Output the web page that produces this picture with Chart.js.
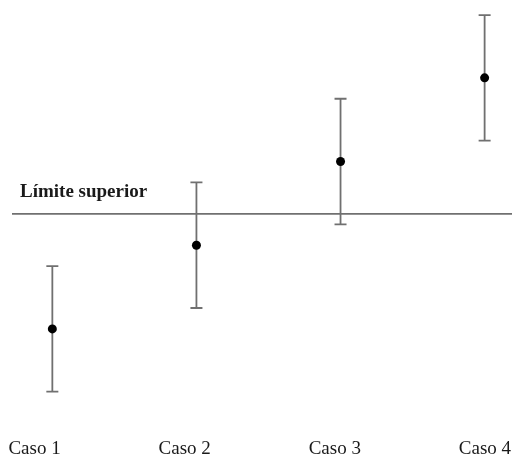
<!DOCTYPE html>
<html>
<head>
<meta charset="utf-8">
<script src="https://cdn.jsdelivr.net/npm/chart.js@4/dist/chart.umd.min.js"></script>
<style>
  html, body { margin: 0; padding: 0; background: #ffffff; }
  #wrap { width: 512px; height: 457px; }
</style>
</head>
<body>
<div id="wrap"><canvas id="chart" width="512" height="457"></canvas></div>
<script>
// Cases along the horizontal axis
const categories = ['Caso 1', 'Caso 2', 'Caso 3', 'Caso 4'];
// Central estimate of each case
const means = [2, 4, 6, 8];
// Lower and upper ends of each interval
const lower = [0.5, 2.5, 4.5, 6.5];
const upper = [3.5, 5.5, 7.5, 9.5];
// Reference limit and its caption
const limitValue = 4.75;
const limitLabel = 'Límite superior';

const X_MIN = 0.72, X_MAX = 4.19;

const LINE_COLOR = '#707070';

// Whiskers with caps, plus the caption over the limit line
const intervalPlugin = {
  id: 'intervals',
  beforeDatasetsDraw(chart) {
    const ctx = chart.ctx;
    const xs = chart.scales.x, ys = chart.scales.y;
    ctx.save();
    ctx.strokeStyle = LINE_COLOR;
    ctx.lineWidth = 1.8;
    means.forEach((m, i) => {
      const px = xs.getPixelForValue(i + 1);
      const top = ys.getPixelForValue(upper[i]);
      const bot = ys.getPixelForValue(lower[i]);
      const cap = 6;
      ctx.beginPath();
      ctx.moveTo(px, top); ctx.lineTo(px, bot);
      ctx.moveTo(px - cap, top); ctx.lineTo(px + cap, top);
      ctx.moveTo(px - cap, bot); ctx.lineTo(px + cap, bot);
      ctx.stroke();
    });
    ctx.restore();
  },
  afterDatasetsDraw(chart) {
    const ctx = chart.ctx;
    const ys = chart.scales.y;
    const py = ys.getPixelForValue(limitValue);
    ctx.save();
    ctx.fillStyle = '#1a1a1a';
    ctx.font = 'bold 19px "Liberation Serif", "Times New Roman", serif';
    ctx.textAlign = 'left';
    ctx.textBaseline = 'alphabetic';
    ctx.fillText(limitLabel, chart.chartArea.left + 8, py - 17);
    ctx.restore();
  }
};

new Chart(document.getElementById('chart'), {
  data: {
    datasets: [
      {
        type: 'line',
        data: [{ x: X_MIN, y: limitValue }, { x: X_MAX, y: limitValue }],
        borderColor: LINE_COLOR,
        borderWidth: 1.8,
        pointRadius: 0,
        xAxisID: 'x',
        yAxisID: 'y'
      },
      {
        type: 'scatter',
        data: means.map((m, i) => ({ x: i + 1, y: m })),
        backgroundColor: '#000000',
        borderColor: '#000000',
        pointStyle: 'circle',
        pointRadius: 4.5,
        borderWidth: 0,
        xAxisID: 'x',
        yAxisID: 'y'
      }
    ]
  },
  options: {
    responsive: false,
    animation: false,
    layout: { autoPadding: false, padding: { left: 12, right: 0, top: 0, bottom: 0 } },
    plugins: { legend: { display: false }, tooltip: { enabled: false } },
    scales: {
      x: {
        type: 'linear',
        display: false,
        min: X_MIN,
        max: X_MAX
      },
      xLabels: {
        type: 'linear',
        position: 'bottom',
        min: 0.85,
        max: 4.18,
        grid: { display: false, drawTicks: false },
        border: { display: false },
        afterBuildTicks(scale) {
          scale.ticks = categories.map((c, i) => ({ value: i + 1 }));
        },
        afterFit(scale) {
          scale.height = 26;
        },
        ticks: {
          autoSkip: false,
          maxRotation: 0,
          padding: 0,
          color: '#1a1a1a',
          font: { family: '"Liberation Serif", "Times New Roman", serif', size: 19, lineHeight: '37px' },
          callback: (v) => categories[Math.round(v) - 1]
        }
      },
      y: {
        type: 'linear',
        display: false,
        min: -0.44,
        max: 9.86
      }
    }
  },
  plugins: [intervalPlugin]
});
</script>
</body>
</html>
